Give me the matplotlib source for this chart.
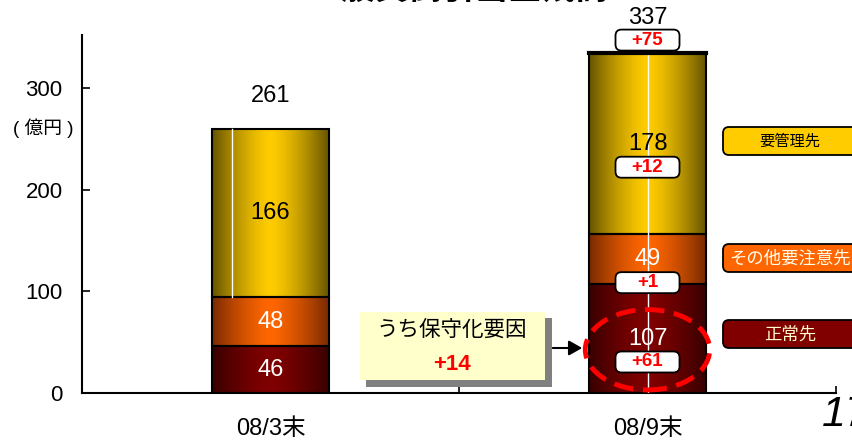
import numpy as np
import matplotlib.pyplot as plt
from matplotlib.patches import Rectangle, FancyBboxPatch, Ellipse
from matplotlib.colors import to_rgb
from matplotlib.transforms import Affine2D

plt.rcParams['font.family'] = ['Liberation Sans', 'Noto Sans CJK JP']

# 一般貸倒引当金の内訳（億円）
periods = ['08/3末', '08/9末']
seijo = [46, 107]       # 正常先
sonota = [48, 49]       # その他要注意先
yokanri = [166, 178]    # 要管理先
totals = [261, 337]

# 08/3末 → 08/9末 の増減
delta_total = '+75'
deltas = ['+61', '+1', '+12']   # 正常先, その他要注意先, 要管理先
hoshu = '+14'                    # うち保守化要因

layers = [seijo, sonota, yokanri]
names = ['正常先', 'その他要注意先', '要管理先']
c_center = ['#800000', '#FF6600', '#FFCC00']
c_edge = ['#380000', '#782A00', '#665400']
c_text = ['white', 'white', 'black']

W, H = 852, 441
fig = plt.figure(figsize=(W / 100, H / 100), dpi=100)
ax = fig.add_axes([82 / W, 48 / H, 754 / W, 358 / H])
# pixel coordinates (origin top-left) for the slide decorations
T = Affine2D().scale(1 / W, -1 / H).translate(0, 1) + fig.transFigure

bw = 0.31
yl = 352
ypx = 358 / yl           # pixels per unit
xpx = 754 / 2            # pixels per category


def grad_seg(xc, bottom, h, cc, ce):
    t = np.linspace(-1, 1, 256)
    s = 1 - np.abs(t) ** 1.4
    cc, ce = np.array(to_rgb(cc)), np.array(to_rgb(ce))
    img = ce + (cc - ce) * s[:, None]
    ax.imshow(img[None, :, :], extent=[xc - bw / 2, xc + bw / 2, bottom, bottom + h],
              aspect='auto', interpolation='bilinear', zorder=2)
    ax.add_patch(Rectangle((xc - bw / 2, bottom), bw, h, fill=False,
                           ec='black', lw=1.5, zorder=3))


def delta_box(xc, yc, txt):
    bwid, bh = 64 / xpx, 21 / ypx
    ax.add_patch(FancyBboxPatch((xc - bwid / 2, yc - bh / 2), bwid, bh,
                                boxstyle='round,pad=0,rounding_size=0.016',
                                mutation_aspect=(1 / ypx) / (1 / xpx),
                                fc='white', ec='black', lw=1.3, zorder=5, clip_on=False))
    ax.text(xc, yc, txt, ha='center', va='center', color='red', fontsize=13.5,
            fontweight='bold', zorder=6, clip_on=False)


for i in range(len(periods)):
    bottom = 0
    for k, vals in enumerate(layers):
        v = vals[i]
        grad_seg(i, bottom, v, c_center[k], c_edge[k])
        ax.text(i, bottom + v / 2, str(v), ha='center', va='center',
                fontsize=17, color=c_text[k], zorder=6)
        if i == 1:
            delta_box(i, bottom + v / 2 - 23, deltas[k])
        bottom += v
    if i == 0:
        # 要管理先の区間だけに入る白線
        x0 = i - bw / 2 + 0.17 * bw
        ax.plot([x0, x0], [seijo[i] + sonota[i], bottom], color='white', lw=1, zorder=4)
        ax.text(i, bottom + 32, str(totals[i]), ha='center', va='center', fontsize=17)
    else:
        ax.plot([i, i], [0, bottom], color='white', lw=1, zorder=4)
        ax.plot([i - bw / 2, i + bw / 2], [bottom, bottom], color='black', lw=3, zorder=4)
        delta_box(i, bottom + 13, delta_total)
        ax.text(i, bottom + 35, str(totals[i]), ha='center', va='center',
                fontsize=17, clip_on=False)

# 保守化要因の強調
ax.add_patch(Ellipse((1, seijo[1] / 2 - 11), 0.33, 79, fill=False, ec='red', lw=3.5,
                     ls=(0, (4, 2)), zorder=7, clip_on=False))

ax.set_xlim(-0.5, 1.5)
ax.set_ylim(0, yl)
ax.set_yticks([0, 100, 200, 300])
ax.tick_params(axis='y', direction='in', length=6, width=1.2, labelsize=16, pad=14)
ax.set_xticks([0, 1], periods, fontsize=17)
ax.set_xticks([-0.5, 0.5, 1.5], minor=True)
ax.tick_params(axis='x', which='major', length=0, pad=18)
ax.tick_params(axis='x', which='minor', direction='in', length=5, width=1.2)
for sp in ['top', 'right']:
    ax.spines[sp].set_visible(False)
for sp in ['left', 'bottom']:
    ax.spines[sp].set_linewidth(1.5)

fig.text(43, 128, '( 億円 )', transform=T, ha='center', va='center', fontsize=13.5)
fig.text(459, 7, '一般貸倒引当金残高', transform=T, ha='center', va='bottom',
         fontsize=24, fontweight='bold')
fig.text(822, 395, '17', transform=T, ha='left', va='top', fontsize=31, style='italic',
         family=['Liberation Sans Narrow', 'Liberation Sans'])

# うち保守化要因 の吹き出し
fig.patches.append(Rectangle((366, 318), 186, 69, transform=T, fc='#808080', ec='none'))
fig.patches.append(Rectangle((360, 312), 185, 68, transform=T, fc='#FFFFCC', ec='none'))
fig.text(452, 330, 'うち保守化要因', transform=T, ha='center', va='center', fontsize=15.5)
fig.text(452, 364, hoshu, transform=T, ha='center', va='center', fontsize=16,
         color='red', fontweight='bold')
ax.annotate('', xy=(585, 348), xytext=(550, 348), xycoords=T, textcoords=T,
            arrowprops=dict(arrowstyle='-|>,head_length=0.8,head_width=0.45',
                            color='black', lw=1.5))

# 区分ラベル
leg_y = [334, 258, 141]
leg_fs = [12.5, 12.5, 11]
leg_tc = ['#FFFFCC', '#FFFFF0', 'black']
for k in range(3):
    fig.patches.append(FancyBboxPatch((723, leg_y[k] - 14), 150, 28, transform=T,
                                      boxstyle='round,pad=0,rounding_size=6',
                                      fc=c_center[k], ec='black', lw=1.3))
    fig.text(790, leg_y[k], names[k], transform=T, ha='center', va='center',
             fontsize=leg_fs[k], color=leg_tc[k])

fig.savefig('out.png', dpi=100)
